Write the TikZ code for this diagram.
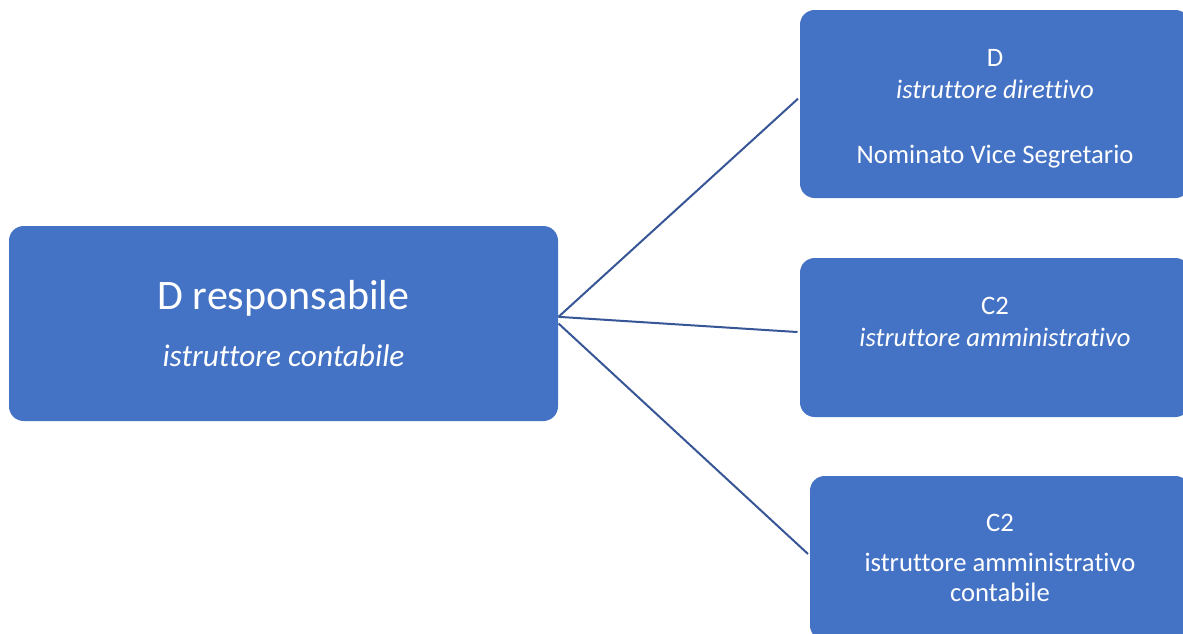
\documentclass[tikz,border=0pt]{standalone}
\usepackage{fontspec}
\setmainfont{Carlito}[Ligatures=NoCommon]
\definecolor{boxblue}{RGB}{68,114,196}
\definecolor{linkblue}{RGB}{54,86,150}
\tikzset{every picture/.style={line width=0.75pt}}
\tikzset{
  rolebox/.style={rectangle, rounded corners=11pt, fill=boxblue, text=white, align=center, inner sep=0pt},
  link/.style={draw=linkblue, line width=1.5pt, shorten >=1.5pt}
}
\begin{document}
\begin{tikzpicture}[x=0.75pt,y=0.75pt,yscale=-1,xscale=1]
\useasboundingbox (0,0) rectangle (1183,633);
\clip (0,0) rectangle (1183,633);

%Shape: Rounded Rect [id:resp]
\node [rolebox, minimum width=411.75pt, minimum height=146.25pt, font=\fontsize{31.5}{38}\selectfont] (resp) at (283.5,323.5)
  {D responsabile\\[4.5pt]{\fontsize{23.5}{28}\selectfont\itshape istruttore contabile}};
%Shape: Rounded Rect [id:dir]
\node [rolebox, minimum width=292.5pt, minimum height=141pt, font=\fontsize{20}{24.3}\selectfont] (dir) at (995,104)
  {\rule{0pt}{20pt}D\\\textit{istruttore direttivo}\\[24.3pt]Nominato Vice Segretario};
%Shape: Rounded Rect [id:amm]
\node [rolebox, minimum width=292.5pt, minimum height=119.25pt, font=\fontsize{20}{23.5}\selectfont] (amm) at (995,337.5)
  {C2\\\textit{istruttore amministrativo}\\\mbox{}};
%Shape: Rounded Rect [id:cont]
\node [rolebox, minimum width=285pt, minimum height=123pt, font=\fontsize{20}{22}\selectfont] (cont) at (1000,558)
  {C2\\[8pt]istruttore amministrativo\\contabile};

%Straight Lines
\draw [link] ([yshift=-5pt]resp.east) -- ([yshift=-5pt]dir.west);
\draw [link] ([yshift=-5pt]resp.east) -- ([yshift=-4pt]amm.west);
\draw [link] (resp.east) -- ([yshift=-2pt]cont.west);

\end{tikzpicture}
\end{document}
